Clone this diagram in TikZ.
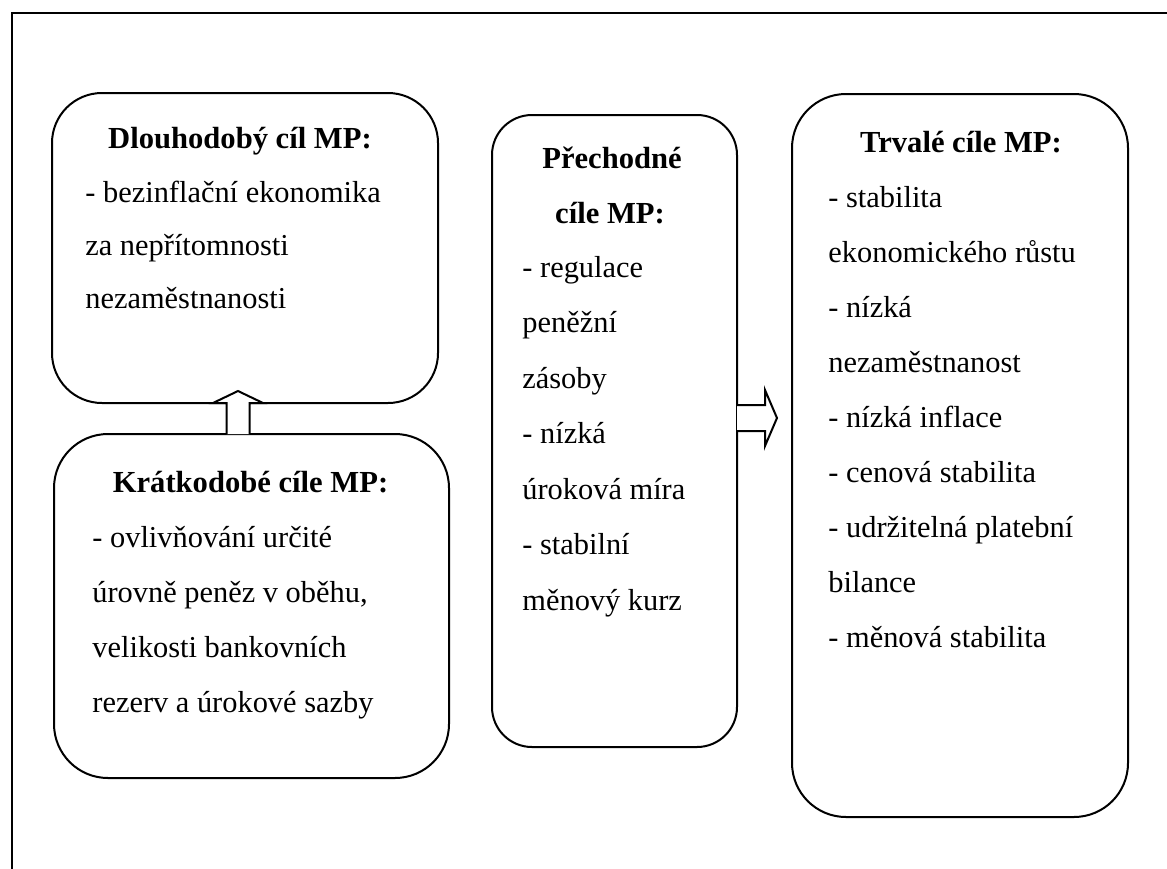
\documentclass[tikz,border=0pt]{standalone}
\usepackage{fontspec}
\setmainfont{Liberation Serif}
\usetikzlibrary{calc}
\begin{document}
\begin{tikzpicture}[x=0.5pt,y=-0.5pt,
  box/.style={draw, line width=1pt, rectangle, inner sep=0pt, outer sep=0pt},
  ttl/.style={font=\bfseries\fontsize{15.3}{18}\selectfont, anchor=base, inner sep=0pt},
  txt/.style={font=\fontsize{15.2}{18}\selectfont, anchor=base west, inner sep=0pt},
  blockarrow/.style={draw, fill=white, line width=1pt, line join=miter},
  frameline/.style={line width=1.2pt}]
\useasboundingbox (0,0) rectangle (1167,868);
\clip (0,0) rectangle (1167,868);
\draw[frameline] (12,900) -- (12,13) -- (1200,13);

% boxes
\node[box, rounded corners=25pt, minimum width=193pt, minimum height=155pt] (A) at (245,248) {};
\node[box, rounded corners=27pt, minimum width=197.5pt, minimum height=172pt] (B) at (251.5,606) {};
\node[box, rounded corners=20pt, minimum width=122.5pt, minimum height=316pt] (C) at (614.5,431) {};
\node[box, rounded corners=27pt, minimum width=168pt, minimum height=361.5pt] (D) at (960,455.5) {};

% box A text
\node[ttl] (At) at (240,148) {Dlouhodobý cíl MP:};
\foreach \t [count=\i] in {- bezinflační ekonomika, za nepřítomnosti, nezaměstnanosti}
  \node[txt] (A\i) at (85,{202+53*(\i-1)}) {\t};

% box B text
\node[ttl] (Bt) at (250.5,492) {Krátkodobé cíle MP:};
\foreach \t [count=\i] in {- ovlivňování určité, {úrovně peněz v oběhu,}, velikosti bankovních, rezerv a úrokové sazby}
  \node[txt] (B\i) at (92,{547+55*(\i-1)}) {\t};

% box C text
\node[ttl] (Ct1) at (612,168) {Přechodné};
\node[ttl] (Ct2) at (610,223) {cíle MP:};
\foreach \t [count=\i] in {- regulace, peněžní, zásoby, - nízká, úroková míra, - stabilní, měnový kurz}
  \node[txt] (C\i) at (522,{277+55.5*(\i-1)}) {\t};

% box D text
\node[ttl] (Dt) at (961,152) {Trvalé cíle MP:};
\foreach \t [count=\i] in {- stabilita, ekonomického růstu, - nízká, nezaměstnanost, - nízká inflace, - cenová stabilita, - udržitelná platební, bilance, - měnová stabilita}
  \node[txt] (D\i) at (828,{207+55*(\i-1)}) {\t};

% up block arrow B -> A
\coordinate (u) at (238,0);
\draw[blockarrow] ($(B.north -| u)+(-11.5,0)$) -- ($(A.south -| u)+(-11.5,0)$)
  -- ($(A.south -| u)+(-25,0)$) -- ($(A.south -| u)+(0,-12)$)
  -- ($(A.south -| u)+(25,0)$) -- ($(A.south -| u)+(11.5,0)$)
  -- ($(B.north -| u)+(11.5,0)$);

% right block arrow C -> D
\coordinate (v) at (0,418);
\draw[blockarrow] ($(C.east |- v)+(0,-13)$) -- ($(C.east |- v)+(28,-13)$)
  -- ($(C.east |- v)+(28,-28)$) -- ($(C.east |- v)+(40,0)$)
  -- ($(C.east |- v)+(28,28)$) -- ($(C.east |- v)+(28,13)$)
  -- ($(C.east |- v)+(0,13)$);
\end{tikzpicture}
\end{document}
